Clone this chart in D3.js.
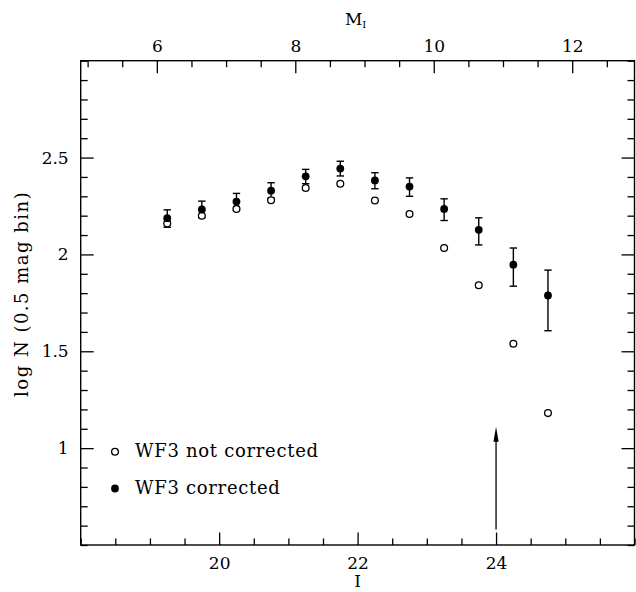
<!DOCTYPE html>
<html>
<head>
<meta charset="utf-8">
<script src="https://cdn.jsdelivr.net/npm/d3@7"></script>
<style>
  html, body { margin: 0; padding: 0; background: #fff; }
  svg { display: block; }
  text { font-family: "DejaVu Serif", "Liberation Serif", serif; fill: #000; }
</style>
</head>
<body>
<svg id="chart" width="636" height="592"></svg>
<script>
// Luminosity function in I, 0.5 mag bins
const binCentres   = [19.25, 19.75, 20.25, 20.75, 21.25, 21.75, 22.25, 22.75, 23.25, 23.75, 24.25, 24.75];
const notCorrected = [2.160, 2.200, 2.235, 2.280, 2.343, 2.365, 2.278, 2.209, 2.033, 1.841, 1.539, 1.181];
const corrected    = [2.187, 2.232, 2.273, 2.329, 2.403, 2.443, 2.382, 2.350, 2.235, 2.127, 1.947, 1.788];
const corrUpper    = [2.230, 2.275, 2.315, 2.370, 2.439, 2.481, 2.422, 2.395, 2.287, 2.189, 2.033, 1.919];
const corrLower    = [2.140, 2.190, 2.227, 2.290, 2.365, 2.405, 2.339, 2.300, 2.175, 2.049, 1.836, 1.606];

// axis settings
const iDomain = [18, 26];
const distanceModulus = 13.1;          // M_I = I - 13.1
const logNDomain = [0.5, 3.0];
const iMajor = [20, 22, 24];
const mMajor = [6, 8, 10, 12];
const logNMajor = [1, 1.5, 2, 2.5];
const limitMag = 24;                   // completeness limit arrow
const limitArrow = [0.58, 1.11];

const legendLabels = ["WF3 not corrected", "WF3 corrected"];

const svg = d3.select("#chart");
const margin = { left: 80.7, right: 1.5, top: 60.7, bottom: 47 };
const W = 636, H = 592;
const x = d3.scaleLinear().domain(iDomain).range([margin.left, W - margin.right]);
const y = d3.scaleLinear().domain(logNDomain).range([H - margin.bottom, margin.top]);
const xm = d3.scaleLinear()
  .domain([iDomain[0] - distanceModulus, iDomain[1] - distanceModulus])
  .range(x.range());

const range = (a, b, s) => d3.range(Math.round((b - a) / s) + 1).map(i => +(a + i * s).toFixed(4));

const iMinor = range(18, 26, 0.5).filter(v => !iMajor.includes(v));
const mMinor = range(5, 12.5, 0.5).filter(v => !mMajor.includes(v));
const logNMinor = range(0.5, 3.0, 0.1).filter(v => !logNMajor.some(m => Math.abs(m - v) < 1e-6));

const fontSize = 17;
function styleAxis(g) {
  g.select(".domain").remove();
  g.selectAll("line").attr("stroke", "#000").attr("stroke-width", 1.3);
  g.selectAll("text").attr("font-size", fontSize).attr("font-family", '"DejaVu Serif", serif');
}

// bottom axis (I)
svg.append("g").attr("transform", `translate(0,${y.range()[0]})`)
  .call(d3.axisBottom(x).tickValues(iMinor).tickSize(-6.5).tickFormat(""))
  .call(styleAxis);
svg.append("g").attr("transform", `translate(0,${y.range()[0]})`)
  .call(d3.axisBottom(x).tickValues(iMajor).tickSize(-12.5).tickPadding(11.5).tickFormat(d3.format("d")))
  .call(styleAxis);

// top axis (M_I)
svg.append("g").attr("transform", `translate(0,${y.range()[1]})`)
  .call(d3.axisTop(xm).tickValues(mMinor).tickSize(-6.5).tickFormat(""))
  .call(styleAxis);
svg.append("g").attr("transform", `translate(0,${y.range()[1]})`)
  .call(d3.axisTop(xm).tickValues(mMajor).tickSize(-12.5).tickPadding(8.5).tickFormat(d3.format("d")))
  .call(styleAxis);

// left axis (log N)
svg.append("g").attr("transform", `translate(${x.range()[0]},0)`)
  .call(d3.axisLeft(y).tickValues(logNMinor).tickSize(-7).tickFormat(""))
  .call(styleAxis);
svg.append("g").attr("transform", `translate(${x.range()[0]},0)`)
  .call(d3.axisLeft(y).tickValues(logNMajor).tickSize(-13).tickPadding(12).tickFormat(d => d3.format("~g")(d)))
  .call(styleAxis);

// right axis (ticks only)
svg.append("g").attr("transform", `translate(${x.range()[1]},0)`)
  .call(d3.axisRight(y).tickValues(logNMinor).tickSize(-7).tickFormat(""))
  .call(styleAxis);
svg.append("g").attr("transform", `translate(${x.range()[1]},0)`)
  .call(d3.axisRight(y).tickValues(logNMajor).tickSize(-13).tickFormat(""))
  .call(styleAxis);

// frame
svg.append("rect")
  .attr("x", x.range()[0]).attr("y", y.range()[1])
  .attr("width", x.range()[1] - x.range()[0])
  .attr("height", y.range()[0] - y.range()[1])
  .attr("fill", "none").attr("stroke", "#000").attr("stroke-width", 1.4);

// axis titles
svg.append("text")
  .attr("x", (x.range()[0] + x.range()[1]) / 2).attr("y", 587)
  .attr("text-anchor", "middle").attr("font-size", 17).text("I");

const mTitle = svg.append("text")
  .attr("x", (x.range()[0] + x.range()[1]) / 2 - 2).attr("y", 25)
  .attr("text-anchor", "middle").attr("font-size", 17);
mTitle.append("tspan").text("M");
mTitle.append("tspan").attr("font-size", 10).attr("dy", 3).text("I");

svg.append("text")
  .attr("transform", `translate(28,${(y.range()[0] + y.range()[1]) / 2 - 9}) rotate(-90)`)
  .attr("text-anchor", "middle").attr("font-size", 18).attr("letter-spacing", 1.5)
  .text("log N (0.5 mag bin)");

// error bars for the corrected counts
const capHalf = 3.7;
const bars = svg.append("g").attr("stroke", "#000").attr("stroke-width", 1.4);
binCentres.forEach((b, i) => {
  const cx = x(b);
  bars.append("line").attr("x1", cx).attr("x2", cx).attr("y1", y(corrLower[i])).attr("y2", y(corrUpper[i]));
  bars.append("line").attr("x1", cx - capHalf).attr("x2", cx + capHalf).attr("y1", y(corrUpper[i])).attr("y2", y(corrUpper[i]));
  bars.append("line").attr("x1", cx - capHalf).attr("x2", cx + capHalf).attr("y1", y(corrLower[i])).attr("y2", y(corrLower[i]));
});

// not corrected: open circles
svg.append("g").selectAll("circle").data(binCentres).join("circle")
  .attr("cx", d => x(d)).attr("cy", (d, i) => y(notCorrected[i]))
  .attr("r", 3.4).attr("fill", "#fff").attr("stroke", "#000").attr("stroke-width", 1.3);

// corrected: filled circles
svg.append("g").selectAll("circle").data(binCentres).join("circle")
  .attr("cx", d => x(d)).attr("cy", (d, i) => y(corrected[i]))
  .attr("r", 3.9).attr("fill", "#000");

// completeness arrow
const ax = x(limitMag), ay0 = y(limitArrow[0]), ay1 = y(limitArrow[1]);
svg.append("line").attr("x1", ax).attr("x2", ax).attr("y1", ay0).attr("y2", ay1 + 10)
  .attr("stroke", "#000").attr("stroke-width", 1.3);
svg.append("path")
  .attr("d", `M${ax},${ay1} L${ax - 2.6},${ay1 + 15} L${ax + 2.6},${ay1 + 15} Z`)
  .attr("fill", "#000");

// legend
const legend = svg.append("g").attr("transform", "translate(115,0)");
legend.append("circle").attr("cx", 0).attr("cy", 451.7).attr("r", 3.4)
  .attr("fill", "#fff").attr("stroke", "#000").attr("stroke-width", 1.3);
legend.append("text").attr("x", 20).attr("y", 456.5).attr("font-size", 18).attr("letter-spacing", 0.7)
  .text(legendLabels[0]);
legend.append("circle").attr("cx", 0).attr("cy", 488.5).attr("r", 3.9).attr("fill", "#000");
legend.append("text").attr("x", 20).attr("y", 494).attr("font-size", 18).attr("letter-spacing", 0.7)
  .text(legendLabels[1]);
</script>
</body>
</html>
